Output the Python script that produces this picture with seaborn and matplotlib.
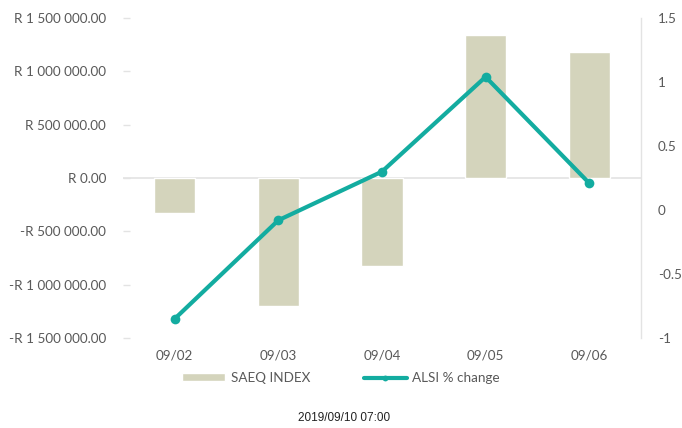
import matplotlib
matplotlib.use("Agg")
import matplotlib.pyplot as plt
import seaborn as sns
import numpy as np
from matplotlib.ticker import FuncFormatter, MultipleLocator

# данные с графика
dates = ["09/02", "09/03", "09/04", "09/05", "09/06"]
saeq_index = [-330000, -1200000, -820000, 1340000, 1180000]
alsi_change = [-0.85, -0.08, 0.30, 1.04, 0.21]

bar_color = "#d4d4bc"
line_color = "#13aca0"
text_color = "#595959"
grid_color = "#e3e3e3"

sns.set_theme(style="white")
plt.rcParams['font.family'] = ['Lato', 'DejaVu Sans']

fig = plt.figure(figsize=(6.82, 4.28), dpi=100)
ax = fig.add_axes([0.180, 0.210, 0.760, 0.748])

sns.barplot(x=dates, y=saeq_index, color=bar_color, saturation=1, width=0.4, ax=ax,
            label="SAEQ INDEX")
ax.axhline(0, color=grid_color, linewidth=1.2, zorder=0.5)
ax.set_ylim(-1500000, 1500000)
ax.yaxis.set_major_locator(MultipleLocator(500000))


def rand_fmt(v, pos):
    s = f"{abs(v):,.2f}".replace(",", " ")
    return ("-R " if v < 0 else "R ") + s


ax.yaxis.set_major_formatter(FuncFormatter(rand_fmt))
ax.tick_params(axis='y', labelsize=9.7, labelcolor=text_color, length=0, pad=12)
ax.tick_params(axis='y', right=True, direction='in', length=5, color=grid_color, width=1)
ax.tick_params(axis='x', labelsize=9.7, labelcolor=text_color, length=0, pad=8)
for s in ["left", "top", "bottom", "right"]:
    ax.spines[s].set_visible(False)
ax.set_xlabel("")

ax2 = ax.twinx()
sns.lineplot(x=np.arange(len(dates)), y=alsi_change, color=line_color, linewidth=3,
             marker="o", markersize=7, markeredgewidth=0, ax=ax2, label="ALSI % change")
ax2.set_ylim(-1, 1.5)
ax2.yaxis.set_major_locator(MultipleLocator(0.5))
ax2.yaxis.set_major_formatter(FuncFormatter(lambda v, p: f"{v:g}"))
ax2.tick_params(axis='y', labelsize=9.7, labelcolor=text_color, length=0, pad=12)
for s in ["left", "top", "bottom"]:
    ax2.spines[s].set_visible(False)
ax2.spines["right"].set_color(grid_color)
ax2.spines["right"].set_linewidth(1)
ax.set_xlim(-0.5, len(dates) - 0.5)

h1, l1 = ax.get_legend_handles_labels()
h2, l2 = ax2.get_legend_handles_labels()
if ax2.get_legend():
    ax2.get_legend().remove()
if ax.get_legend():
    ax.get_legend().remove()
fig.legend(h1 + h2, l1 + l2, loc="center", bbox_to_anchor=(0.50, 0.117), ncol=2,
           frameon=False, fontsize=9.7, labelcolor=text_color, handlelength=3.2,
           handleheight=0.5, columnspacing=4, handletextpad=0.4, markerscale=0.6)

fig.text(0.505, 1 - 418 / 428, "2019/09/10 07:00", ha="center", va="center",
         fontsize=8.5, color="#222222", family=["Liberation Sans"])

fig.savefig("out.png", dpi=100)
